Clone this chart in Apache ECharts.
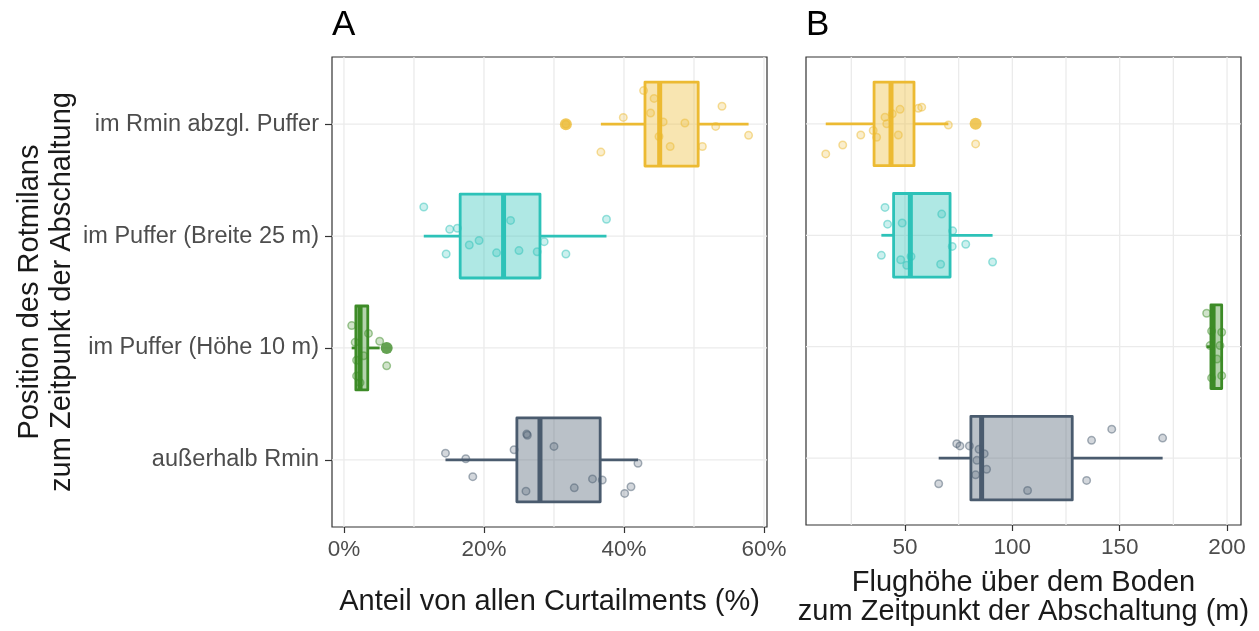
<!DOCTYPE html>
<html>
<head>
<meta charset="utf-8">
<script src="https://cdn.jsdelivr.net/npm/echarts@6/dist/echarts.min.js"></script>
<style>
  html, body { margin: 0; padding: 0; background: #ffffff; }
  #chart { width: 1259px; height: 631px; }
</style>
</head>
<body>
<div id="chart"></div>
<script>
// Positions of the red kite, bottom (1) to top (4)
const groups = ['außerhalb Rmin', 'im Puffer (Höhe 10 m)', 'im Puffer (Breite 25 m)', 'im Rmin abzgl. Puffer'];

// Panel A: share of all curtailments (%) — [lower whisker, Q1, median, Q3, upper whisker]
const shareStats = [
  [14.5, 24.7, 28.0, 36.6, 42.0],
  [1.1, 1.7, 2.3, 3.4, 5.1],
  [11.4, 16.6, 22.8, 28.0, 37.5],
  [36.7, 43.0, 45.1, 50.6, 57.8]
];
const shareOutliers = [[], [6.1], [], [31.7]];
const sharePoints = [
  [14.5, 17.4, 18.4, 24.3, 26.1, 26.2, 26.0, 30.0, 32.9, 35.5, 36.9, 40.1, 41.0, 42.0],
  [1.1, 3.5, 1.6, 5.1, 6.1, 1.8, 1.8, 2.8, 2.3],
  [11.4, 15.1, 16.2, 14.6, 17.9, 19.3, 21.8, 23.8, 25.0, 27.6, 28.6, 31.7, 37.5],
  [42.8, 44.3, 43.8, 39.9, 45.6, 48.7, 53.1, 54.0, 45.0, 46.6, 51.2, 57.8, 36.7, 31.7]
];
const shareJitter = [
  [0.06, 0.01, -0.15, 0.09, 0.23, 0.22, -0.28, 0.12, -0.25, -0.17, -0.18, -0.30, -0.24, -0.03],
  [0.20, 0.13, 0.05, 0.06, -0.16, -0.11, -0.25, -0.07, -0.31],
  [0.26, 0.06, 0.07, -0.16, -0.08, -0.04, -0.15, 0.14, -0.13, -0.14, -0.05, -0.16, 0.15],
  [0.30, 0.23, 0.10, 0.06, 0.02, 0.01, -0.02, 0.16, -0.11, -0.20, -0.20, -0.10, -0.25, 0.00]
];

// Panel B: flight height above ground at curtailment (m)
const heightStats = [
  [65.7, 80.7, 85.7, 127.9, 170.0],
  [190.5, 192.5, 193.5, 197.5, 197.5],
  [39.0, 44.7, 52.5, 71.0, 90.8],
  [13.1, 35.6, 43.5, 54.2, 70.2]
];
const heightOutliers = [[], [], [], [82.9]];
const heightPoints = [
  [65.7, 74.1, 75.6, 80.0, 84.5, 86.9, 83.5, 88.0, 82.9, 107.1, 134.6, 136.9, 146.3, 170.0],
  [190.5, 192.8, 197.5, 192.1, 196.7, 192.8, 197.5, 195.3],
  [40.7, 41.9, 48.7, 39.0, 48.0, 52.8, 50.8, 67.1, 72.2, 72.0, 78.3, 66.6, 90.8],
  [13.1, 21.0, 29.4, 35.2, 36.8, 40.7, 41.5, 44.1, 47.7, 46.9, 56.2, 57.8, 70.2, 82.9]
];
const heightJitter = [
  [-0.23, 0.13, 0.11, 0.11, 0.08, 0.04, -0.02, -0.10, -0.15, -0.29, -0.20, 0.16, 0.26, 0.18],
  [0.30, 0.14, 0.13, 0.01, 0.01, -0.28, -0.26, -0.11],
  [0.25, 0.10, 0.11, -0.18, -0.22, -0.19, -0.27, 0.19, 0.04, -0.10, -0.08, -0.26, -0.24],
  [-0.27, -0.19, -0.10, -0.06, -0.12, 0.06, 0.00, 0.09, 0.13, -0.10, 0.14, 0.15, -0.01, -0.18]
];

// Axis ticks and grid lines
const shareTicks = [0, 20, 40, 60];
const shareGridLines = [0, 10, 20, 30, 40, 50, 60];
const heightTicks = [50, 100, 150, 200];
const heightGridLines = [25, 50, 75, 100, 125, 150, 175, 200];
const groupPositions = [1, 2, 3, 4];

// Colour per group (bottom to top)
const palette = [
  [74, 91, 110],    // slate
  [61, 139, 39],    // green
  [45, 194, 184],   // turquoise
  [236, 186, 50]    // gold
];
const rgba = (c, a) => `rgba(${c[0]},${c[1]},${c[2]},${a})`;

const FONT = 'Liberation Sans';
const HALF_BOX = 0.375;
const GRID_COLOR = '#ebebeb';

function boxRenderer(col) {
  return function (params, api) {
    const pos = api.value(0);
    const lo = api.value(1), q1 = api.value(2), med = api.value(3), q3 = api.value(4), hi = api.value(5);
    const yTop = api.coord([q1, pos + HALF_BOX])[1];
    const yBot = api.coord([q1, pos - HALF_BOX])[1];
    const yc = api.coord([q1, pos])[1];
    const xLo = api.coord([lo, pos])[0];
    const xQ1 = api.coord([q1, pos])[0];
    const xMed = api.coord([med, pos])[0];
    const xQ3 = api.coord([q3, pos])[0];
    const xHi = api.coord([hi, pos])[0];
    const stroke = rgba(col, 1);
    return {
      type: 'group',
      children: [
        { type: 'line', shape: { x1: xLo, y1: yc, x2: xQ1, y2: yc }, style: { stroke, lineWidth: 2.8 } },
        { type: 'line', shape: { x1: xQ3, y1: yc, x2: xHi, y2: yc }, style: { stroke, lineWidth: 2.8 } },
        { type: 'rect', shape: { x: xQ1, y: yTop, width: xQ3 - xQ1, height: yBot - yTop },
          style: { fill: rgba(col, 0.38), stroke, lineWidth: 2.8, lineJoin: 'round' } },
        { type: 'line', shape: { x1: xMed, y1: yTop, x2: xMed, y2: yBot }, style: { stroke, lineWidth: 5 } }
      ]
    };
  };
}

// vertical grid line at an x value
function vLine(params, api) {
  const cs = params.coordSys;
  const x = api.coord([api.value(0), api.value(1)])[0];
  return { type: 'line', silent: true, shape: { x1: x, y1: cs.y, x2: x, y2: cs.y + cs.height },
    style: { stroke: GRID_COLOR, lineWidth: 1.3 } };
}
// horizontal grid line at a group position
function hLine(params, api) {
  const cs = params.coordSys;
  const y = api.coord([api.value(0), api.value(1)])[1];
  return { type: 'line', silent: true, shape: { x1: cs.x, y1: y, x2: cs.x + cs.width, y2: y },
    style: { stroke: GRID_COLOR, lineWidth: 1.3 } };
}

function panelSeries(stats, outliers, points, jitter, gridLines, ticks, axisIndex) {
  const list = [];
  list.push({
    type: 'custom', xAxisIndex: axisIndex, yAxisIndex: axisIndex, z: 0, silent: true,
    renderItem: vLine, encode: { x: 0, y: 1 },
    data: gridLines.map(v => [v, groupPositions[0]])
  });
  list.push({
    type: 'custom', xAxisIndex: axisIndex, yAxisIndex: axisIndex, z: 0, silent: true,
    renderItem: hLine, encode: { x: 0, y: 1 },
    data: groupPositions.map(p => [ticks[0], p])
  });
  stats.forEach((s, g) => {
    const col = palette[g];
    list.push({
      type: 'custom', xAxisIndex: axisIndex, yAxisIndex: axisIndex, z: 2,
      renderItem: boxRenderer(col),
      encode: { x: [1, 2, 3, 4, 5], y: 0 },
      data: [[groupPositions[g]].concat(s)]
    });
    if (outliers[g].length) {
      list.push({
        type: 'scatter', xAxisIndex: axisIndex, yAxisIndex: axisIndex, z: 3,
        symbolSize: 12, itemStyle: { color: rgba(col, 1) },
        data: outliers[g].map(v => [v, groupPositions[g]])
      });
    }
    list.push({
      type: 'scatter', xAxisIndex: axisIndex, yAxisIndex: axisIndex, z: 4,
      symbolSize: 7.5,
      itemStyle: { color: rgba(col, 0.3), borderColor: rgba(col, 0.6), borderWidth: 1.5 },
      data: points[g].map((v, i) => [v, groupPositions[g] + jitter[g][i]])
    });
  });
  return list;
}

const axisText = { color: '#4d4d4d', fontSize: 22.5, fontFamily: FONT };
const titleText = { color: '#1a1a1a', fontSize: 29, fontFamily: FONT };
const tickStyle = { color: '#333', width: 1.2 };

const chart = echarts.init(document.getElementById('chart'), null, { renderer: 'canvas' });
chart.setOption({
  animation: false,
  backgroundColor: '#ffffff',
  grid: [
    { left: 332, top: 57, width: 435, height: 470, show: true, borderColor: '#333333', borderWidth: 1.2, backgroundColor: 'transparent' },
    { left: 806, top: 57, width: 435, height: 470, show: true, borderColor: '#333333', borderWidth: 1.2, backgroundColor: 'transparent' }
  ],
  graphic: [
    { type: 'text', left: 332, top: 8, style: { text: 'A', fontSize: 35, fontFamily: FONT, fill: '#000' } },
    { type: 'text', left: 806, top: 8, style: { text: 'B', fontSize: 35, fontFamily: FONT, fill: '#000' } }
  ],
  xAxis: [
    {
      type: 'value', gridIndex: 0, min: -1.71, max: 60.43,
      axisLine: { show: false, onZero: false }, splitLine: { show: false },
      axisTick: { show: true, length: 6, lineStyle: tickStyle, customValues: shareTicks },
      axisLabel: { ...axisText, margin: 11, customValues: shareTicks, formatter: v => v + '%' },
      name: 'Anteil von allen Curtailments (%)', nameLocation: 'middle', nameGap: 60,
      nameTextStyle: titleText
    },
    {
      type: 'value', gridIndex: 1, min: 3.9, max: 206.5,
      axisLine: { show: false, onZero: false }, splitLine: { show: false },
      axisTick: { show: true, length: 6, lineStyle: tickStyle, customValues: heightTicks },
      axisLabel: { ...axisText, margin: 11, customValues: heightTicks },
      name: 'Flughöhe über dem Boden\nzum Zeitpunkt der Abschaltung (m)', nameLocation: 'middle', nameGap: 43,
      nameTextStyle: { ...titleText, lineHeight: 29 }
    }
  ],
  yAxis: [
    {
      type: 'value', gridIndex: 0, min: 0.4, max: 4.6,
      axisLine: { show: false, onZero: false }, splitLine: { show: false },
      axisTick: { show: true, length: 7, lineStyle: tickStyle, customValues: groupPositions },
      axisLabel: { ...axisText, fontSize: 23.5, margin: 13, customValues: groupPositions, formatter: v => groups[Math.round(v) - 1] },
      name: 'Position des Rotmilans\nzum Zeitpunkt der Abschaltung', nameLocation: 'middle', nameRotate: 90, nameGap: 254,
      nameTextStyle: { ...titleText, lineHeight: 32 }
    },
    {
      type: 'value', gridIndex: 1, min: 0.4, max: 4.6,
      axisLine: { show: false, onZero: false }, splitLine: { show: false },
      axisTick: { show: false }, axisLabel: { show: false }
    }
  ],
  series: [].concat(
    panelSeries(shareStats, shareOutliers, sharePoints, shareJitter, shareGridLines, shareTicks, 0),
    panelSeries(heightStats, heightOutliers, heightPoints, heightJitter, heightGridLines, heightTicks, 1)
  )
});
</script>
</body>
</html>
